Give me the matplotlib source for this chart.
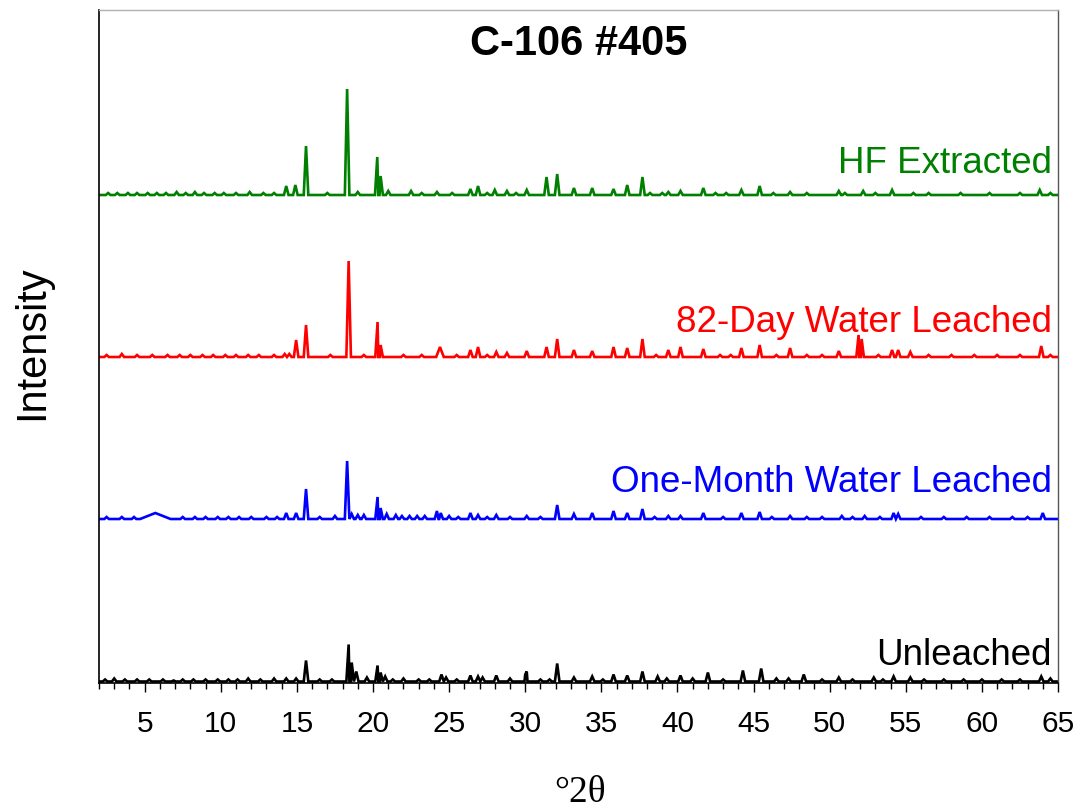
import matplotlib
matplotlib.use("Agg")
import matplotlib.pyplot as plt
from matplotlib.ticker import MultipleLocator

plt.rcParams['font.family'] = ['Liberation Sans', 'DejaVu Sans']

# rango de 2theta
x_min, x_max = 2.0, 65.0

# desplazamiento vertical de cada patron (unidades arbitrarias)
offsets = {'Unleached': 1.5, 'One-Month Water Leached': 164,
           '82-Day Water Leached': 326, 'HF Extracted': 488}
colores = {'Unleached': 'black', 'One-Month Water Leached': 'blue',
           '82-Day Water Leached': 'red', 'HF Extracted': 'green'}

# picos: (2theta, altura)
picos_unleached = [(14.3, 3), (14.95, 3), (15.6, 21), (18.4, 37), (18.6, 19), (18.9, 10),
                   (19.6, 4), (20.3, 16), (20.5, 9), (20.8, 5), (24.5, 7), (24.8, 4),
                   (26.4, 6), (26.9, 5), (27.2, 4), (28.1, 6), (30.0, 7), (30.1, 10),
                   (32.1, 18), (33.2, 4), (34.4, 5), (35.8, 7), (36.7, 6), (37.7, 10),
                   (38.7, 5), (40.2, 6), (42.0, 9), (44.3, 11), (45.5, 13), (46.5, 3),
                   (48.3, 7), (50.6, 4), (52.9, 4), (54.2, 5), (55.3, 4), (63.9, 5)]
ruido_unleached = [(2.4, 2), (3.0, 3), (3.7, 2), (4.5, 2), (5.3, 2), (6.2, 2), (6.9, 1),
                   (7.5, 2), (8.2, 2), (9.0, 2), (9.8, 2), (10.5, 2), (11.1, 2), (11.8, 3),
                   (12.6, 2), (13.5, 3), (16.5, 2), (17.3, 2), (21.3, 2), (22.0, 3),
                   (23.0, 2), (23.7, 2), (25.5, 2), (29.0, 3), (31.0, 2), (31.6, 2),
                   (35.1, 2), (39.3, 3), (41.0, 3), (43.0, 2), (47.3, 3), (49.5, 2),
                   (51.5, 2), (53.5, 2), (56.2, 2), (57.5, 2), (58.8, 2), (60.0, 2),
                   (61.3, 2), (62.5, 2), (64.5, 3)]
anchos_unleached = []

picos_onemonth = [(14.3, 6), (14.95, 6), (15.6, 30), (18.3, 58), (18.6, 5), (19.0, 4),
                  (19.4, 4), (20.3, 22), (20.5, 11), (20.9, 5), (21.5, 4), (22.4, 3),
                  (23.4, 3), (24.2, 8), (24.45, 6), (25.0, 3), (26.4, 6), (26.9, 4),
                  (28.1, 4), (30.1, 3), (32.1, 14), (33.2, 5), (34.4, 6), (35.8, 8),
                  (36.7, 6), (37.7, 10), (39.4, 3), (40.2, 3), (41.7, 6), (44.2, 6),
                  (45.4, 7), (47.4, 3), (50.8, 3), (52.3, 3), (54.2, 6), (54.5, 5), (64.0, 6)]
ruido_onemonth = [(2.5, 2), (3.5, 2), (4.3, 2), (7.5, 2), (8.3, 2), (9.0, 2), (9.8, 2),
                  (10.5, 2), (11.2, 2), (12.0, 2), (13.0, 2), (13.7, 2), (16.5, 2),
                  (17.5, 3), (21.9, 3), (22.9, 3), (25.6, 2), (27.5, 2), (29.0, 2),
                  (31.0, 2), (38.5, 2), (43.0, 2), (46.2, 2), (48.5, 2), (49.5, 2),
                  (51.5, 2), (53.3, 2), (56.0, 2), (57.5, 2), (59.0, 2), (60.5, 2),
                  (62.0, 2), (63.0, 2)]
anchos_onemonth = [(5.7, 6, 1.0)]

picos_82dias = [(14.5, 3), (14.95, 17), (15.6, 32), (18.4, 96), (20.3, 35), (20.5, 12),
                (26.4, 7), (26.9, 10), (28.1, 5), (28.8, 4), (30.1, 6), (31.4, 10),
                (32.1, 18), (33.2, 7), (34.4, 6), (35.8, 10), (36.7, 9), (37.7, 18),
                (39.4, 7), (40.2, 10), (41.7, 8), (44.2, 9), (45.4, 12), (47.4, 9),
                (50.6, 6), (51.9, 22), (52.1, 18), (54.1, 7), (54.5, 7), (55.3, 5), (63.9, 11)]
ruido_82dias = [(2.5, 2), (3.5, 3), (4.5, 2), (5.5, 2), (6.5, 2), (7.3, 2), (8.0, 2),
                (8.8, 2), (9.5, 2), (10.3, 2), (11.0, 2), (11.8, 2), (12.5, 2), (13.5, 2),
                (14.2, 3), (17.2, 2), (19.4, 2), (22.0, 2), (23.2, 2), (25.5, 2), (27.5, 2),
                (38.6, 2), (42.8, 2), (43.5, 2), (46.5, 2), (48.5, 2), (49.5, 2), (53.2, 2),
                (56.5, 2), (58.0, 2), (59.5, 2), (61.0, 2), (62.5, 2), (64.5, 2)]
anchos_82dias = [(24.4, 10, 0.25)]

picos_hf = [(14.3, 9), (14.9, 10), (15.6, 49), (18.3, 106), (20.28, 38), (20.5, 19),
            (21.0, 4), (22.5, 4), (24.2, 3), (26.4, 6), (26.9, 9), (28.0, 5), (28.8, 4),
            (30.1, 5), (31.4, 18), (32.1, 21), (33.2, 7), (34.4, 7), (35.8, 6), (36.7, 10),
            (37.7, 18), (39.4, 3), (40.2, 4), (41.7, 7), (44.2, 5), (45.4, 9), (47.4, 3),
            (50.6, 4), (52.2, 4), (54.1, 5), (63.8, 5)]
ruido_hf = [(2.6, 2), (3.2, 2), (3.9, 2), (4.5, 2), (5.2, 2), (5.8, 2), (6.4, 2), (7.1, 3),
            (7.7, 2), (8.3, 3), (8.9, 2), (9.6, 2), (10.2, 2), (11.0, 2), (11.9, 3),
            (12.8, 2), (13.5, 2), (17.0, 2), (19.0, 3), (23.2, 2), (25.2, 2), (27.5, 2),
            (29.4, 2), (38.2, 2), (39.0, 2), (42.5, 2), (43.2, 2), (46.3, 2), (48.5, 2),
            (51.0, 2), (53.0, 2), (55.5, 2), (56.5, 2), (58.6, 2), (60.5, 2), (62.5, 2), (64.5, 2)]
anchos_hf = []

series = [
    ('Unleached', picos_unleached + ruido_unleached, anchos_unleached),
    ('One-Month Water Leached', picos_onemonth + ruido_onemonth, anchos_onemonth),
    ('82-Day Water Leached', picos_82dias + ruido_82dias, anchos_82dias),
    ('HF Extracted', picos_hf + ruido_hf, anchos_hf),
]

# posicion de las etiquetas (intensidad en la linea base del texto)
etiquetas_y = {'Unleached': 18, 'One-Month Water Leached': 191,
               '82-Day Water Leached': 351, 'HF Extracted': 510}

MEDIO_ANCHO = 0.15


def vertices_patron(picos, anchos, base):
    # cada pico se dibuja como un triangulo sobre la linea base
    pts = [(x_min, 0.0), (x_max, 0.0)]
    for pos, alt in picos:
        pts += [(pos - MEDIO_ANCHO, 0.0), (pos, alt), (pos + MEDIO_ANCHO, 0.0)]
    for pos, alt, hw in anchos:
        pts += [(pos - hw, 0.0), (pos, alt), (pos + hw, 0.0)]
    pts.sort(key=lambda p: p[0])
    xs = [p[0] for p in pts]
    ys = [p[1] + base for p in pts]
    return xs, ys


fig = plt.figure(figsize=(10.8, 8.11), dpi=100)
ax = fig.add_axes([99 / 1080, 1 - 683 / 811, 959 / 1080, 673 / 811])

for nombre, picos, anchos in series:
    xs, ys = vertices_patron(picos, anchos, offsets[nombre])
    ax.plot(xs, ys, color=colores[nombre], lw=1.9, solid_joinstyle='miter')
    ax.text(64.6, etiquetas_y[nombre], nombre, color=colores[nombre], fontsize=26.5,
            ha='right', va='baseline')

ax.set_xlim(x_min, x_max)
ax.set_ylim(0, 673)
ax.xaxis.set_minor_locator(MultipleLocator(1))
ax.set_xticks(range(5, 66, 5))
ax.tick_params(axis='x', which='major', length=6.5, width=1.0, labelsize=21.5, pad=13,
               direction='out')
ax.tick_params(axis='x', which='minor', length=4, width=1.0, direction='out')
ax.set_yticks([])

for lado in ['left', 'bottom']:
    ax.spines[lado].set_linewidth(1.2)
    ax.spines[lado].set_color('black')
ax.spines['top'].set_color('#b0b0b0')
ax.spines['top'].set_linewidth(1.0)
ax.spines['right'].set_color('#555555')
ax.spines['right'].set_linewidth(1.0)

fig.text(579 / 1080, 1 - 44 / 811, 'C-106 #405', fontsize=30, fontweight='bold',
         ha='center', va='center')
fig.text(32 / 1080, 1 - 343 / 811, 'Intensity', fontsize=30, rotation=90,
         ha='center', va='center')
fig.text(580 / 1080, 1 - 793 / 811, '°2θ', fontsize=27,
         family=['Liberation Serif', 'DejaVu Serif'], ha='center', va='center')

fig.savefig('out.png', dpi=100)
